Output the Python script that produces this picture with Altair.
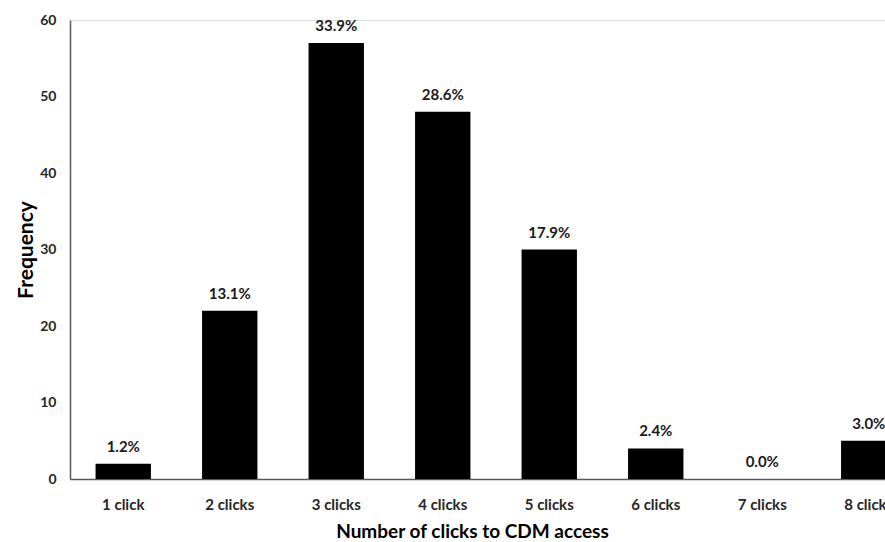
import altair as alt
import pandas as pd

categories = ["1 click", "2 clicks", "3 clicks", "4 clicks", "5 clicks", "6 clicks", "7 clicks", "8 clicks"]
frequency = [2, 22, 57, 48, 30, 4, 0, 5]
percent_labels = ["1.2%", "13.1%", "33.9%", "28.6%", "17.9%", "2.4%", "0.0%", "3.0%"]
y_ticks = [0, 10, 20, 30, 40, 50, 60]

df = pd.DataFrame({"cat": categories, "freq": frequency, "pct": percent_labels})

FONT = "Lato"

x = alt.X("cat:N", sort=categories,
          scale=alt.Scale(range=[0, 852], paddingInner=0.48, paddingOuter=0.24),
          axis=alt.Axis(title="Number of clicks to CDM access", labelAngle=0,
                        labelFont=FONT, labelFontWeight="bold", labelFontSize=15,
                        labelColor="#262626", labelPadding=18, ticks=False,
                        domainColor="#595959", domainWidth=1.5,
                        titleFont=FONT, titleFontWeight="bold", titleFontSize=19,
                        titleColor="#000000", titleX=402, titleY=58,
                        titleAnchor="middle", titleAlign="center", titleBaseline="alphabetic"))
y = alt.Y("freq:Q",
          scale=alt.Scale(domain=[0, 60], nice=False),
          axis=alt.Axis(title="Frequency", values=y_ticks, grid=False, ticks=False,
                        labelFont=FONT, labelFontWeight="bold", labelFontSize=14,
                        labelColor="#262626", labelPadding=14,
                        domainColor="#595959", domainWidth=1.5,
                        titleFont=FONT, titleFontWeight="bold", titleFontSize=21,
                        titleColor="#000000", titlePadding=3))

bars = alt.Chart(df).mark_bar(color="#000000").encode(x=x, y=y)
text = alt.Chart(df).mark_text(font=FONT, fontWeight="bold", fontSize=15, color="#1a1a1a",
                               baseline="alphabetic", dy=-12).encode(x=x, y=y, text="pct:N")

chart = (bars + text).properties(
    width=815, height=459,
    autosize=alt.AutoSizeParams(type="none"),
    padding={"left": 70, "top": 20, "right": 0, "bottom": 63},
).configure_view(stroke=None).configure(background="white")

chart.save("out.html", embed_options={"renderer": "svg", "actions": False})
